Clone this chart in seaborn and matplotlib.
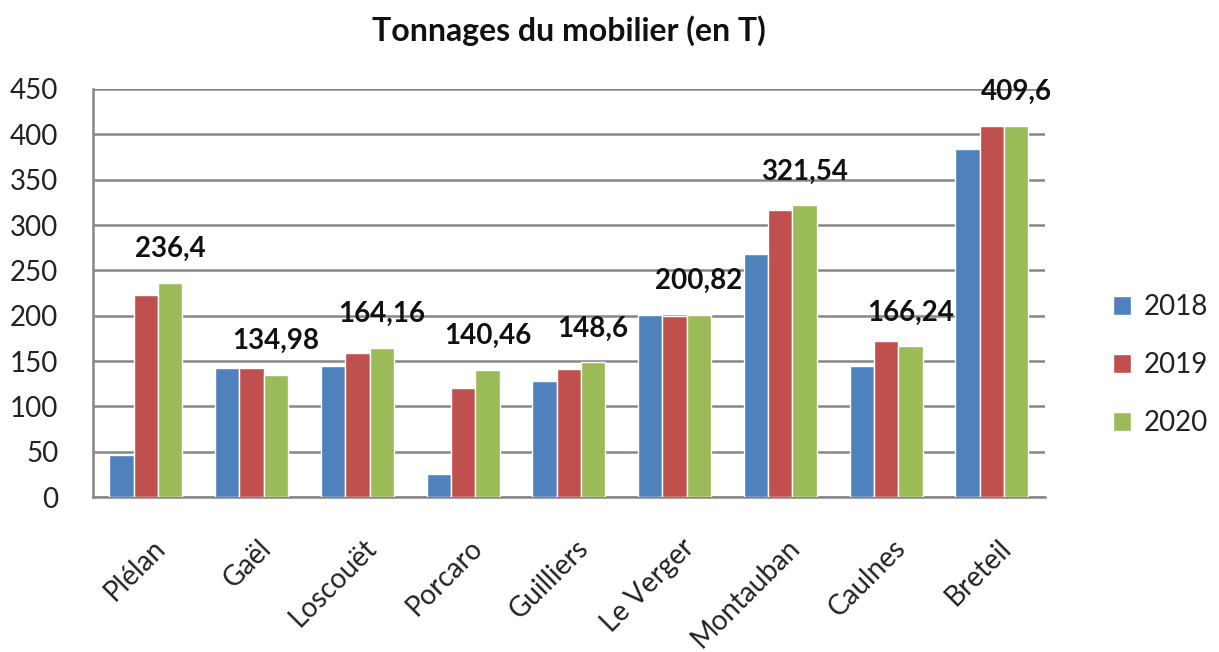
import numpy as np
import pandas as pd
import matplotlib
matplotlib.use('Agg')
from matplotlib import pyplot as plt
from matplotlib import transforms
import seaborn as sns

communes = ['Plélan', 'Gaël', 'Loscouët', 'Porcaro', 'Guilliers',
            'Le Verger', 'Montauban', 'Caulnes', 'Breteil']
t2018 = [46, 142, 144, 25, 127.5, 201, 267.5, 145, 384]
t2019 = [223, 142, 158.5, 120.5, 141.5, 199.5, 316, 172, 409]
t2020 = [236.4, 134.98, 164.16, 140.46, 148.6, 200.82, 321.54, 166.24, 409.6]
years = ['2018', '2019', '2020']
colors = ['#4F81BD', '#C0504D', '#9BBB59']

df = pd.DataFrame({'Commune': communes * 3,
                   'Annee': [y for y in years for _ in communes],
                   'Tonnage': t2018 + t2019 + t2020})

sns.set_style('white')
plt.rcParams['font.family'] = ['Lato', 'DejaVu Sans']

fig = plt.figure(figsize=(12.19, 6.52), dpi=100)
ax = fig.add_axes([0.0763, 0.2377, 0.7807, 0.6258])

sns.barplot(data=df, x='Commune', y='Tonnage', hue='Annee', palette=colors,
            width=0.69, saturation=1, ax=ax, zorder=3)

ax.set_ylim(0, 450)
ax.set_yticks(range(0, 451, 50))
ax.set_xlim(-0.5, len(communes) - 0.5)
ax.yaxis.grid(True, color='#878787', linewidth=1.8, zorder=0)
ax.set_axisbelow(True)
for s in ['top', 'right']:
    ax.spines[s].set_visible(False)
for s in ['left', 'bottom']:
    ax.spines[s].set_color('#878787')
    ax.spines[s].set_linewidth(1.8)

ax.set_xlabel('')
ax.set_ylabel('')
ax.tick_params(axis='y', length=7, width=1.5, color='#878787', labelsize=20,
               labelcolor='#222222', pad=18)
ax.set_xticks(np.arange(-0.5, len(communes), 1), minor=True)
ax.tick_params(axis='x', which='minor', length=8, width=1.5, color='#878787')
ax.tick_params(axis='x', which='major', length=0, labelsize=20,
               labelcolor='#222222', pad=27)
shift = transforms.ScaledTranslation(6 / 100, 0, fig.dpi_scale_trans)
for lab in ax.get_xticklabels():
    lab.set_rotation(45)
    lab.set_ha('right')
    lab.set_rotation_mode('anchor')
    lab.set_transform(lab.get_transform() + shift)

labels = [f'{v:g}'.replace('.', ',') for v in t2020]
ax.bar_label(ax.containers[2], labels=labels, padding=15, fontsize=20,
             fontweight='bold', color='#111111')

ax.set_title('Tonnages du mobilier (en T)', fontsize=23, fontweight='bold',
             pad=35, color='#111111')

handles, labs = ax.get_legend_handles_labels()
ax.legend(handles, labs, loc='center', bbox_to_anchor=(0.952, 0.44),
          bbox_transform=fig.transFigure, frameon=False, fontsize=20,
          handlelength=0.65, handleheight=0.65, handletextpad=0.45,
          labelspacing=1.15, labelcolor='#222222')

fig.savefig('out.png', dpi=100)
